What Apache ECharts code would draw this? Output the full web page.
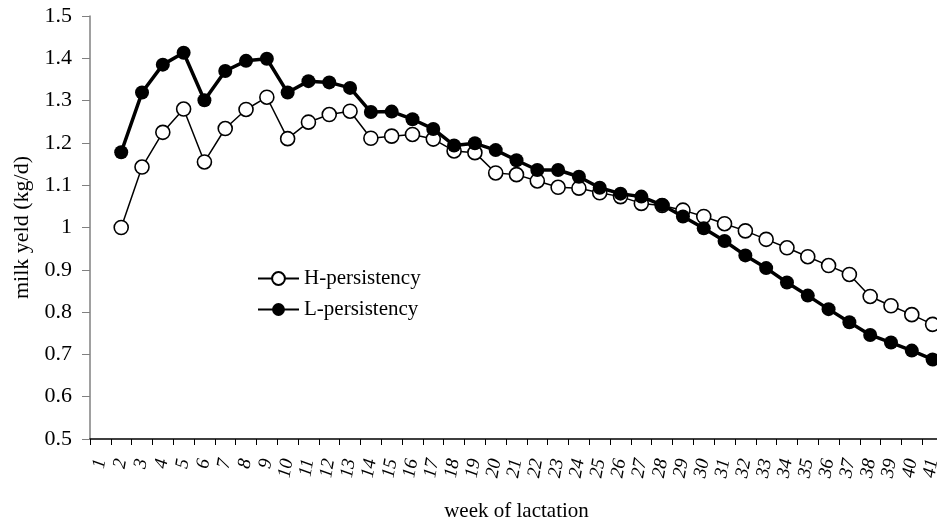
<!DOCTYPE html>
<html>
<head>
<meta charset="utf-8">
<script src="https://cdn.jsdelivr.net/npm/echarts@6/dist/echarts.min.js"></script>
<style>
  html, body { margin: 0; padding: 0; background: #fff; }
  #chart { width: 937px; height: 521px; }
</style>
</head>
<body>
<div id="chart"></div>
<script>
// Weeks of lactation shown on the category axis
const weeks = [];
for (let w = 1; w <= 41; w++) weeks.push(String(w));

// Mean milk yield (kg/d) per week; week 1 has no record
const hPersistency = [null,
  1.000, 1.143, 1.225, 1.280, 1.155, 1.234, 1.279, 1.308, 1.210, 1.249,
  1.267, 1.275, 1.211, 1.216, 1.220, 1.209, 1.181, 1.177, 1.129, 1.125,
  1.110, 1.095, 1.093, 1.082, 1.073, 1.057, 1.052, 1.041, 1.026, 1.009,
  0.992, 0.972, 0.952, 0.931, 0.910, 0.889, 0.837, 0.815, 0.794, 0.771];

const lPersistency = [null,
  1.178, 1.319, 1.385, 1.413, 1.301, 1.370, 1.394, 1.399, 1.319, 1.346,
  1.343, 1.330, 1.273, 1.274, 1.256, 1.233, 1.194, 1.199, 1.183, 1.159,
  1.136, 1.136, 1.120, 1.094, 1.080, 1.073, 1.053, 1.026, 0.998, 0.968,
  0.934, 0.904, 0.870, 0.839, 0.807, 0.776, 0.746, 0.728, 0.709, 0.688];

const yTicks = { min: 0.5, max: 1.5, step: 0.1 };

const serif = '"Liberation Serif", "DejaVu Serif", serif';

const chart = echarts.init(document.getElementById('chart'), null, { renderer: 'canvas' });

chart.setOption({
  animation: false,
  backgroundColor: '#ffffff',
  textStyle: { fontFamily: serif, color: '#000' },
  grid: {
    left: 90, top: 16, width: 853, height: 423,
    containLabel: false,
    outerBoundsMode: 'none'
  },
  legend: {
    left: 252, top: 263,
    orient: 'vertical',
    itemWidth: 41, itemHeight: 16,
    itemGap: 10,
    textStyle: { fontFamily: serif, fontSize: 21, color: '#000' },
    data: ['H-persistency', 'L-persistency']
  },
  xAxis: {
    type: 'category',
    data: weeks,
    boundaryGap: true,
    name: 'week of lactation',
    nameLocation: 'middle',
    nameGap: 62,
    nameTextStyle: { fontFamily: serif, fontSize: 21, color: '#000' },
    axisLine: { lineStyle: { color: '#000', width: 1.5 } },
    axisTick: { show: true, length: 6, lineStyle: { color: '#000' }, alignWithLabel: false },
    axisLabel: {
      interval: 0, rotate: 80, margin: 20,
      fontFamily: serif, fontStyle: 'italic', fontSize: 19, color: '#000'
    },
    splitLine: { show: false }
  },
  yAxis: {
    type: 'value',
    min: yTicks.min, max: yTicks.max, interval: yTicks.step,
    name: 'milk yeld (kg/d)',
    nameLocation: 'middle',
    nameGap: 57,
    nameRotate: 90,
    nameTextStyle: { fontFamily: serif, fontSize: 22, color: '#000' },
    axisLine: { show: true, lineStyle: { color: '#808080', width: 1.5 } },
    axisTick: { show: true, length: 8, lineStyle: { color: '#808080' } },
    axisLabel: { margin: 18, fontFamily: serif, fontSize: 22, color: '#000' },
    splitLine: { show: false }
  },
  series: [
    {
      name: 'H-persistency',
      type: 'line',
      data: hPersistency,
      symbol: 'circle',
      symbolSize: 14,
      showAllSymbol: true,
      itemStyle: { color: '#fff', borderColor: '#000', borderWidth: 1.6 },
      lineStyle: { color: '#000', width: 1.5 },
      z: 2
    },
    {
      name: 'L-persistency',
      type: 'line',
      data: lPersistency,
      symbol: 'circle',
      symbolSize: 14,
      showAllSymbol: true,
      itemStyle: { color: '#000', borderColor: '#000', borderWidth: 0 },
      lineStyle: { color: '#000', width: 3.5 },
      z: 3
    }
  ]
});
</script>
</body>
</html>
